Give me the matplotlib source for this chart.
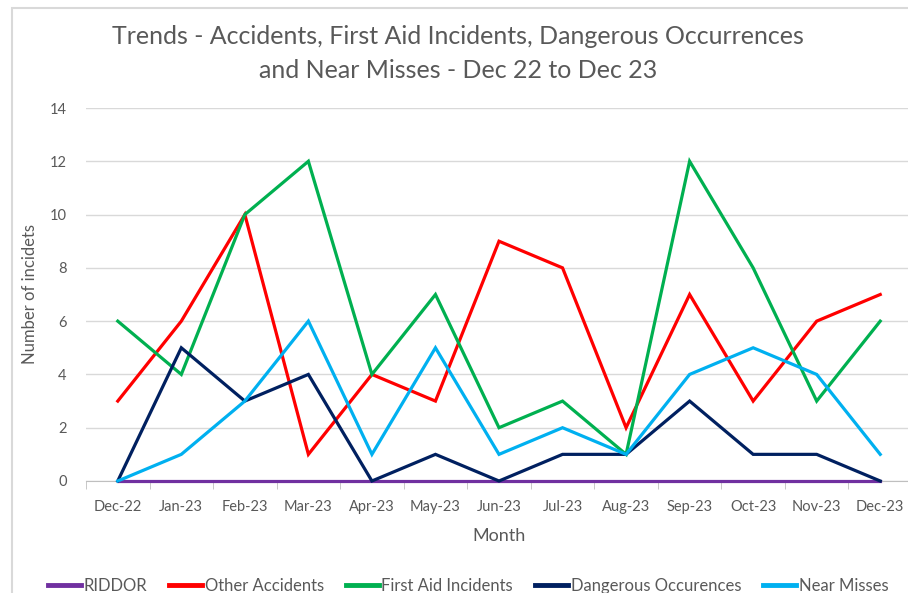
import matplotlib
matplotlib.use("Agg")
from matplotlib import pyplot as plt
from matplotlib.patches import Rectangle

# Daten
monate = ["Dec-22", "Jan-23", "Feb-23", "Mar-23", "Apr-23", "May-23", "Jun-23",
          "Jul-23", "Aug-23", "Sep-23", "Oct-23", "Nov-23", "Dec-23"]
riddor = [0, 0, 0, 0, 0, 0, 0, 0, 0, 0, 0, 0, 0]
other_accidents = [3, 6, 10, 1, 4, 3, 9, 8, 2, 7, 3, 6, 7]
first_aid = [6, 4, 10, 12, 4, 7, 2, 3, 1, 12, 8, 3, 6]
dangerous = [0, 5, 3, 4, 0, 1, 0, 1, 1, 3, 1, 1, 0]
near_misses = [0, 1, 3, 6, 1, 5, 1, 2, 1, 4, 5, 4, 1]

serien = [
    ("RIDDOR", riddor, "#7030A0"),
    ("Other Accidents", other_accidents, "#FF0000"),
    ("First Aid Incidents", first_aid, "#00B050"),
    ("Dangerous Occurences", dangerous, "#002060"),
    ("Near Misses", near_misses, "#00B0F0"),
]

plt.rcParams['font.family'] = ['Lato', 'DejaVu Sans']
grau = "#595959"

fig = plt.figure(figsize=(9.08, 5.93), dpi=100)
ax = fig.add_axes([86 / 908, 1 - 481 / 593, 826 / 908, 373 / 593])

# Rahmen um das Diagramm
fig.patches.append(Rectangle((12 / 908, -0.1), 1.0, 1 - 8 / 593 + 0.1,
                             transform=fig.transFigure, fill=False,
                             edgecolor="#D9D9D9", linewidth=1.5))

x = list(range(len(monate)))
for name, werte, farbe in serien:
    ax.plot(x, werte, color=farbe, linewidth=2.3, label=name,
            solid_joinstyle="miter", clip_on=False, zorder=3)

ax.set_xlim(-0.5, len(monate) - 0.5)
ax.set_ylim(0, 14)
ax.set_yticks(range(0, 15, 2))
ax.set_xticks(x)
ax.set_xticklabels(monate)
ax.set_xticks([i - 0.5 for i in range(len(monate) + 1)], minor=True)
ax.tick_params(axis="x", which="major", length=0, pad=14, labelsize=10.5, labelcolor=grau)
ax.tick_params(axis="x", which="minor", length=6, color="#BFBFBF")
ax.tick_params(axis="y", length=0, pad=14, labelsize=10.5, labelcolor=grau)

ax.grid(axis="y", color="#D9D9D9", linewidth=1)
ax.set_axisbelow(True)
for s in ["top", "right", "left"]:
    ax.spines[s].set_visible(False)
ax.spines["bottom"].set_color("#BFBFBF")

ax.set_xlabel("Month", fontsize=13, color=grau, labelpad=10)
ax.set_ylabel("Number of incidets", fontsize=12, color=grau, labelpad=8)

fig.text(458 / 908, 1 - 37 / 593, "Trends - Accidents, First Aid Incidents, Dangerous Occurrences",
         ha="center", va="center", fontsize=18, color=grau)
fig.text(458 / 908, 1 - 71 / 593, "and Near Misses - Dec 22 to Dec 23",
         ha="center", va="center", fontsize=18, color=grau)

fig.legend(loc="center", bbox_to_anchor=(468 / 908, 1 - 586 / 593), ncol=5,
           frameon=False, fontsize=12, handlelength=2.0, handletextpad=0.15,
           columnspacing=1.3, labelcolor=grau)
for l in fig.legends[0].get_lines():
    l.set_linewidth(3.5)

fig.savefig("out.png", dpi=100)
